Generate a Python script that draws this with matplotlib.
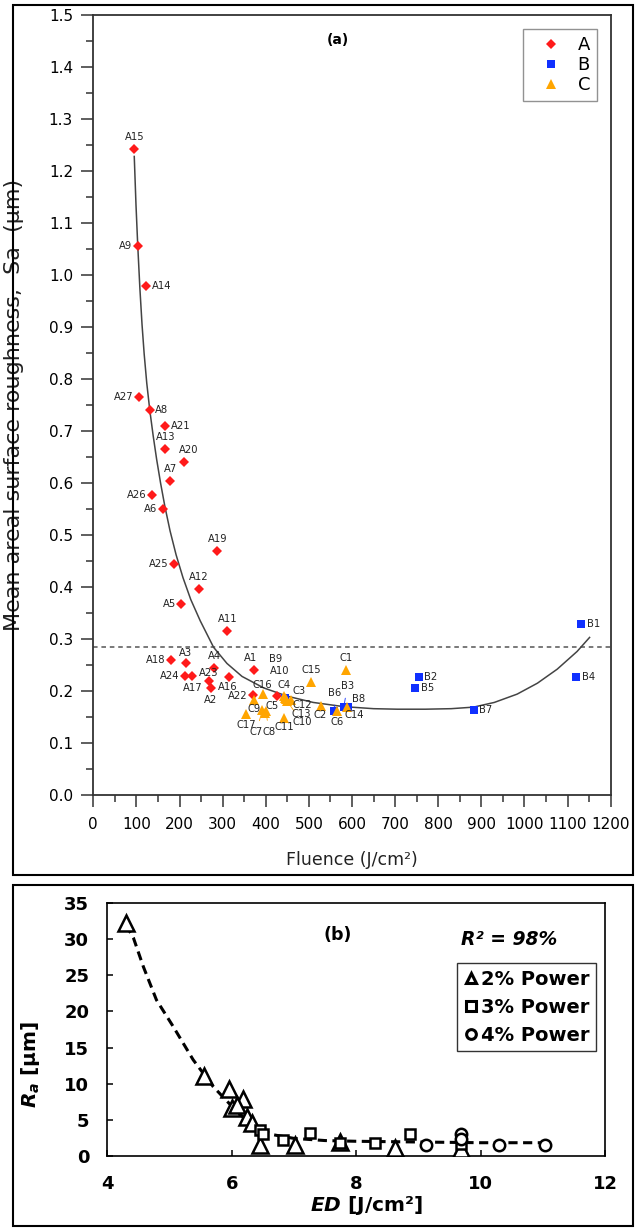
import numpy as np
import matplotlib.pyplot as plt
from matplotlib.lines import Line2D
from matplotlib.patches import Rectangle

plt.rcParams['font.family'] = 'DejaVu Sans'
plt.rcParams['mathtext.fontset'] = 'custom'
plt.rcParams['mathtext.it'] = 'DejaVu Sans:italic:bold'
plt.rcParams['mathtext.rm'] = 'DejaVu Sans:bold'

# ---------------- panel (a) data ----------------
a_names = ['A1', 'A2', 'A3', 'A4', 'A5', 'A6', 'A7', 'A8', 'A9', 'A10', 'A11', 'A12', 'A13', 'A14',
           'A15', 'A16', 'A17', 'A18', 'A19', 'A20', 'A21', 'A22', 'A23', 'A24', 'A25', 'A26', 'A27']
a_fluence = [372, 273, 214, 280, 204, 162, 179, 131, 104, 425, 311, 244, 167, 123,
             95, 315, 230, 180, 288, 211, 167, 370, 268, 212, 187, 136, 107]
a_sa = [0.240, 0.206, 0.254, 0.245, 0.367, 0.550, 0.604, 0.740, 1.056, 0.190, 0.315, 0.396, 0.666, 0.979,
        1.243, 0.226, 0.229, 0.260, 0.470, 0.640, 0.709, 0.193, 0.220, 0.229, 0.445, 0.577, 0.765]

b_names = ['B1', 'B2', 'B3', 'B4', 'B5', 'B6', 'B7', 'B8', 'B9']
b_fluence = [1131, 755, 581, 1120, 747, 559, 882, 590, 445]
b_sa = [0.328, 0.227, 0.169, 0.226, 0.205, 0.161, 0.164, 0.170, 0.186]

c_names = ['C1', 'C2', 'C3', 'C4', 'C5', 'C6', 'C7', 'C8', 'C9', 'C10', 'C11', 'C12', 'C13',
           'C14', 'C15', 'C16', 'C17']
c_fluence = [586, 527, 459, 443, 399, 565, 392, 400, 372, 450, 443, 445, 448, 588, 505, 393, 354]
c_sa = [0.240, 0.171, 0.183, 0.190, 0.158, 0.161, 0.163, 0.162, 0.183, 0.180, 0.148, 0.187, 0.184,
        0.170, 0.217, 0.194, 0.155]

# trend curve
fit_a_x = [95, 99, 103, 108, 113, 118, 124, 131, 139, 147, 156, 166, 178, 192, 208, 226, 248, 279,
           310, 345, 395, 450, 510, 580, 650, 705, 770, 830, 882, 930, 983, 1030, 1076, 1122, 1151]
fit_a_y = [1.228, 1.135, 1.058, 0.975, 0.905, 0.848, 0.792, 0.740, 0.690, 0.645, 0.600, 0.555, 0.508,
           0.462, 0.418, 0.376, 0.335, 0.284, 0.253, 0.228, 0.206, 0.190, 0.178, 0.170, 0.166, 0.165,
           0.165, 0.166, 0.169, 0.178, 0.194, 0.215, 0.242, 0.276, 0.303]
threshold_sa = 0.285

# ---------------- panel (b) data ----------------
p2_ed = [4.30, 5.55, 5.95, 6.18, 6.01, 6.08, 6.24, 6.32, 6.45, 7.02, 7.74, 8.62, 9.69]
p2_ra = [32.2, 11.0, 9.3, 7.8, 6.6, 7.0, 5.4, 4.5, 1.5, 1.5, 1.9, 1.0, 0.9]
p3_ed = [6.45, 6.50, 6.83, 7.26, 7.74, 8.30, 8.87, 9.69]
p3_ra = [3.6, 3.0, 2.2, 3.2, 1.7, 1.7, 3.0, 1.6]
p4_ed = [9.12, 9.69, 9.69, 10.29, 11.04]
p4_ra = [1.5, 3.0, 2.3, 1.5, 1.5]
fit_b_x = [4.30, 4.42, 4.58, 4.79, 5.06, 5.38, 5.70, 6.03, 6.35, 6.67, 7.0, 7.5, 8.0, 9.0, 10.0, 11.05]
fit_b_y = [32.0, 30.2, 26.2, 21.6, 17.9, 13.3, 9.6, 6.6, 4.0, 2.9, 2.4, 2.1, 2.0, 1.9, 1.8, 1.8]

# label placement (offset points, ha, leader line)
L = (-4, 0, 'right', False)
R = (4, 0, 'left', False)
U = (0, 8.5, 'center', False)
D = (0, -8.5, 'center', False)
lab_pos = {
    'A1': (-2, 8.5, 'center', False), 'A2': D, 'A3': (0, 7, 'center', False), 'A4': (0, 8, 'center', False),
    'A5': L, 'A6': L, 'A7': U, 'A8': R, 'A9': L, 'A10': (2, 18, 'center', False), 'A11': U, 'A12': U,
    'A13': U, 'A14': R, 'A15': U, 'A16': (-1, -7, 'center', False), 'A17': D, 'A18': L, 'A19': U,
    'A20': (3, 9, 'center', False), 'A21': R, 'A22': (-4, -1, 'right', False), 'A23': (0, 5.5, 'center', False),
    'A24': L, 'A25': L, 'A26': L, 'A27': L,
    'B1': R, 'B2': R, 'B3': (2.5, 15, 'center', True), 'B4': R, 'B5': R, 'B6': (0, 13, 'center', True),
    'B7': R, 'B8': (3, 5.5, 'left', False), 'B9': (-7, 28, 'center', False),
    'C1': U, 'C2': (0, -6.5, 'center', False), 'C3': (6, 6.5, 'center', False), 'C4': (0, 8, 'center', False),
    'C5': (5, 5, 'center', False), 'C6': (0, -7.5, 'center', False), 'C7': (-4.5, -16, 'center', True),
    'C8': (2.5, -15.5, 'center', True), 'C9': (0, -6.5, 'center', False), 'C10': (10.5, -15, 'center', True),
    'C11': (0, -6.5, 'center', False), 'C12': (12, -5, 'center', True), 'C13': (11, -10.5, 'center', True),
    'C14': (5, -6, 'center', False), 'C15': U, 'C16': (0, 6.5, 'center', False), 'C17': (0, -7.5, 'center', False),
}

red, blue, orange = '#ff1a1a', '#1030ff', '#ffa500'

fig = plt.figure(figsize=(6.42, 12.28), dpi=100)

# outer frames of the two panels
fig.patches.append(Rectangle((13 / 642, 1 - 875 / 1228), 620 / 642, 870 / 1228, transform=fig.transFigure,
                             fill=False, lw=1.5, ec='black'))
fig.patches.append(Rectangle((13 / 642, 2 / 1228), 620 / 642, 341 / 1228, transform=fig.transFigure,
                             fill=False, lw=1.5, ec='black'))

# ================= panel (a) =================
ax = fig.add_axes([93.3 / 642, 1 - 795 / 1228, 517.4 / 642, 780 / 1228])
ax.plot(fit_a_x, fit_a_y, color='#444444', lw=1.1, zorder=2)
ax.axhline(threshold_sa, color='#555555', lw=1.1, ls=(0, (3, 2.5)), zorder=1)

ax.plot(a_fluence, a_sa, ls='none', marker='D', ms=5.6, color=red, mew=0, label='A', zorder=3)
ax.plot(b_fluence, b_sa, ls='none', marker='s', ms=5.8, color=blue, mew=0, label='B', zorder=4)
ax.plot(c_fluence, c_sa, ls='none', marker='^', ms=7.2, color=orange, mew=0, label='C', zorder=5)

for names, xs, ys, lc in [(a_names, a_fluence, a_sa, red), (b_names, b_fluence, b_sa, blue),
                          (c_names, c_fluence, c_sa, orange)]:
    for n, x, y in zip(names, xs, ys):
        dx, dy, ha, leader = lab_pos[n]
        ap = dict(arrowstyle='-', color=lc, lw=0.6, shrinkA=3, shrinkB=1) if leader else None
        ax.annotate(n, (x, y), xytext=(dx, dy), textcoords='offset points', ha=ha, va='center',
                    fontsize=7.2, color='#222222', arrowprops=ap, zorder=6)

ax.set_xlim(0, 1200)
ax.set_ylim(0, 1.5)
ax.set_xticks(np.arange(0, 1201, 100))
ax.set_xticks(np.arange(50, 1200, 100), minor=True)
ax.set_yticks(np.arange(0, 1.51, 0.1))
ax.set_yticks(np.arange(0.05, 1.5, 0.1), minor=True)
ax.set_yticklabels([f'{v:.1f}' for v in np.arange(0, 1.51, 0.1)])
ax.tick_params(which='major', direction='out', length=8.6, width=1.1, labelsize=11, color='#333333', pad=6)
ax.tick_params(which='minor', direction='out', length=5, width=1.1, color='#333333')
ax.tick_params(axis='x', which='major', pad=7)
for s in ax.spines.values():
    s.set_linewidth(1.3)
    s.set_color('#333333')

ax.set_xlabel('Fluence (J/cm²)', fontsize=12.5, color='#222222')
ax.xaxis.set_label_coords(0.5, -0.072)
ax.set_ylabel('Mean areal surface roughness,  Sa  (µm)', fontsize=16, color='#222222')
ax.yaxis.set_label_coords(-0.134, 0.5)
ax.text(0.472, 0.968, '(a)', transform=ax.transAxes, fontsize=10, fontweight='bold', ha='center', va='center')

leg = ax.legend(loc='upper right', bbox_to_anchor=(0.974, 0.982), fontsize=13, frameon=True, fancybox=False,
                edgecolor='#777777', handlelength=2.3, handletextpad=0.3, labelspacing=0.1,
                borderpad=0.4, borderaxespad=0, markerscale=1.0)
leg.get_frame().set_linewidth(1.0)

# ================= panel (b) =================
bx = fig.add_axes([107.3 / 642, 1 - 1155.7 / 1228, 497.7 / 642, 252.4 / 1228])
bx.plot(fit_b_x, fit_b_y, color='black', lw=2.2, ls=(0, (3, 1.8)), zorder=2)
mk = dict(ls='none', mfc='white', mec='black', mew=1.8, zorder=3)
bx.plot(p2_ed, p2_ra, marker='^', ms=11, **mk)
bx.plot(p3_ed, p3_ra, marker='s', ms=7.8, **mk)
bx.plot(p4_ed, p4_ra, marker='o', ms=8.2, **mk)

bx.set_xlim(4, 12)
bx.set_ylim(0, 35)
bx.set_xticks([4, 6, 8, 10, 12])
bx.set_yticks(np.arange(0, 36, 5))
bx.tick_params(direction='in', length=4, width=1.1, labelsize=13)
bx.tick_params(axis='x', pad=14)
bx.tick_params(axis='y', pad=13)
for lab in bx.get_xticklabels() + bx.get_yticklabels():
    lab.set_fontweight('bold')
for s in bx.spines.values():
    s.set_linewidth(1.2)

bx.set_xlabel('$ED$ [J/cm²]', fontsize=14.5, fontweight='bold')
bx.xaxis.set_label_coords(0.521, -0.152)
bx.set_ylabel('$R_a$ [µm]', fontsize=14.5, fontweight='bold')
bx.yaxis.set_label_coords(-0.132, 0.36)
bx.text(0.4635, 0.874, '(b)', transform=bx.transAxes, fontsize=12.5, fontweight='bold', ha='center', va='center')
bx.text(0.808, 0.855, 'R² = 98%', transform=bx.transAxes, fontsize=13.5, fontweight='bold', style='italic',
        ha='center', va='center')

handles = [Line2D([], [], ls='none', marker='^', ms=7, mfc='white', mec='black', mew=2.2),
           Line2D([], [], ls='none', marker='s', ms=6.5, mfc='white', mec='black', mew=2.2),
           Line2D([], [], ls='none', marker='o', ms=7, mfc='white', mec='black', mew=2.2)]
leg2 = bx.legend(handles, ['2% Power', '3% Power', '4% Power'], loc='upper right',
                 bbox_to_anchor=(0.982, 0.762), prop=dict(size=14, weight='bold'), frameon=True,
                 fancybox=False, edgecolor='black', handlelength=0.7, handletextpad=0.15,
                 labelspacing=0.45, borderpad=0.35, borderaxespad=0)
leg2.get_frame().set_linewidth(1.0)

fig.savefig('out.png', dpi=100)
